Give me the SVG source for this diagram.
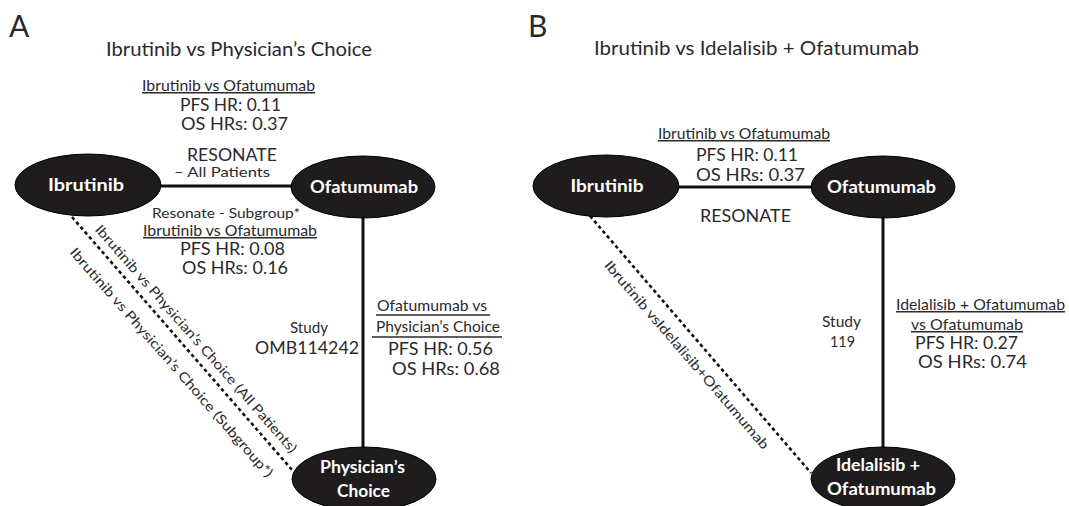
<svg xmlns="http://www.w3.org/2000/svg" width="1069" height="506" viewBox="0 0 1069 506">
  <style>
    text { font-family: Lato, "Open Sans", "Liberation Sans", sans-serif; fill: #2a2a2e; }
    .panel { font-size: 30px; }
    .title { font-size: 19.5px; text-anchor: middle; }
    .hdr { font-size: 15px; }
    .val { font-size: 16.5px; }
    .mid { font-size: 16.5px; }
    .c { text-anchor: middle; }
    .u { text-decoration: underline; }
    .node ellipse { fill: #1f1c1d; stroke: #000; stroke-width: 1; }
    .node text { fill: #ffffff; font-weight: bold; font-size: 16.5px; text-anchor: middle; }
    .edge { stroke: #111; stroke-width: 3; fill: none; }
    .dash { stroke: #111; stroke-width: 2.6; stroke-dasharray: 3.5 3; fill: none; }
    .rot { font-size: 13.5px; text-anchor: middle; }
    .rule { stroke: #2a2a2e; stroke-width: 1.5; }
  </style>

  <!-- Panel A: Ibrutinib vs Physician's Choice -->
  <text class="panel" x="9" y="37">A</text>
  <text class="title" x="239" y="56" textLength="266" lengthAdjust="spacingAndGlyphs">Ibrutinib vs Physician’s Choice</text>

  <g id="connectors-a">
    <line class="edge" x1="158" y1="186" x2="293" y2="186"/>
    <line class="edge" x1="363" y1="216" x2="363" y2="450"/>
    <line class="dash" x1="72" y1="217" x2="293" y2="471"/>
  </g>

  <g id="labels-a">
    <text class="hdr c u" x="228.5" y="91" textLength="173" lengthAdjust="spacingAndGlyphs">Ibrutinib vs Ofatumumab</text>
    <text class="val c" x="230.5" y="111" textLength="101" lengthAdjust="spacingAndGlyphs">PFS HR: 0.11</text>
    <text class="val c" x="234.5" y="130" textLength="107" lengthAdjust="spacingAndGlyphs">OS HRs: 0.37</text>
    <text class="mid c" x="232" y="161" textLength="90" lengthAdjust="spacingAndGlyphs">RESONATE</text>
    <text class="c" x="222" y="177" style="font-size:12.5px" textLength="96" lengthAdjust="spacingAndGlyphs">– All Patients</text>
    <text class="c" x="226" y="218" style="font-size:14px" textLength="148" lengthAdjust="spacingAndGlyphs">Resonate - Subgroup*</text>
    <text class="hdr c u" x="230" y="236" textLength="174" lengthAdjust="spacingAndGlyphs">Ibrutinib vs Ofatumumab</text>
    <text class="val c" x="232.5" y="255" textLength="105" lengthAdjust="spacingAndGlyphs">PFS HR: 0.08</text>
    <text class="val c" x="235" y="274" textLength="106" lengthAdjust="spacingAndGlyphs">OS HRs: 0.16</text>
    <text class="hdr c" x="309" y="333" textLength="38" lengthAdjust="spacingAndGlyphs">Study</text>
    <text class="val c" x="307" y="354" textLength="104" lengthAdjust="spacingAndGlyphs">OMB114242</text>
    <text class="hdr" x="377" y="311" textLength="110" lengthAdjust="spacingAndGlyphs">Ofatumumab vs</text>
    <line class="rule" x1="376" y1="315" x2="490" y2="315"/>
    <text class="hdr" x="376" y="332" textLength="124" lengthAdjust="spacingAndGlyphs">Physician’s Choice</text>
    <line class="rule" x1="372" y1="337" x2="502" y2="337"/>
    <text class="val" x="388" y="355" textLength="105" lengthAdjust="spacingAndGlyphs">PFS HR: 0.56</text>
    <text class="val" x="392" y="375" textLength="108" lengthAdjust="spacingAndGlyphs">OS HRs: 0.68</text>
    <text class="rot" transform="translate(192.5,341.9) rotate(48.75)" textLength="298" lengthAdjust="spacingAndGlyphs">Ibrutinib vs Physician’s Choice (All Patients)</text>
    <text class="rot" transform="translate(168,365.6) rotate(48.75)" textLength="300" lengthAdjust="spacingAndGlyphs">Ibrutinib vs Physician’s Choice (Subgroup*)</text>
  </g>

  <g id="node-a-ibrutinib" class="node">
    <ellipse cx="88" cy="185" rx="73" ry="31"/>
    <text x="86" y="191" textLength="76" lengthAdjust="spacingAndGlyphs">Ibrutinib</text>
  </g>
  <g id="node-a-ofatumumab" class="node">
    <ellipse cx="363" cy="187" rx="72" ry="31"/>
    <text x="364" y="193" textLength="108" lengthAdjust="spacingAndGlyphs">Ofatumumab</text>
  </g>
  <g id="node-a-physicians-choice" class="node">
    <ellipse cx="364" cy="479" rx="72" ry="32"/>
    <text x="362.5" y="473" textLength="85" lengthAdjust="spacingAndGlyphs">Physician’s</text>
    <text x="363.5" y="497" textLength="53" lengthAdjust="spacingAndGlyphs">Choice</text>
  </g>

  <!-- Panel B: Ibrutinib vs Idelalisib + Ofatumumab -->
  <text class="panel" x="528" y="37">B</text>
  <text class="title" x="756.5" y="55" textLength="325" lengthAdjust="spacingAndGlyphs">Ibrutinib vs Idelalisib + Ofatumumab</text>

  <g id="connectors-b">
    <line class="edge" x1="677" y1="187" x2="812" y2="187"/>
    <line class="edge" x1="883" y1="217" x2="883" y2="449"/>
    <line class="dash" x1="590" y1="216" x2="811" y2="473"/>
  </g>

  <g id="labels-b">
    <text class="hdr c u" x="744" y="139" textLength="172" lengthAdjust="spacingAndGlyphs">Ibrutinib vs Ofatumumab</text>
    <text class="val c" x="747" y="161" textLength="102" lengthAdjust="spacingAndGlyphs">PFS HR: 0.11</text>
    <text class="val c" x="750.5" y="181" textLength="109" lengthAdjust="spacingAndGlyphs">OS HRs: 0.37</text>
    <text class="mid c" x="745.5" y="222" textLength="91" lengthAdjust="spacingAndGlyphs">RESONATE</text>
    <text class="hdr c" x="841.5" y="327" textLength="39" lengthAdjust="spacingAndGlyphs">Study</text>
    <text class="hdr c" x="842.5" y="347" textLength="25" lengthAdjust="spacingAndGlyphs">119</text>
    <text class="hdr u" x="896" y="310" textLength="169" lengthAdjust="spacingAndGlyphs">Idelalisib + Ofatumumab</text>
    <text class="hdr u" x="911" y="330" textLength="112" lengthAdjust="spacingAndGlyphs">vs Ofatumumab</text>
    <text class="val" x="915" y="349" textLength="103" lengthAdjust="spacingAndGlyphs">PFS HR: 0.27</text>
    <text class="val" x="918" y="368" textLength="109" lengthAdjust="spacingAndGlyphs">OS HRs: 0.74</text>
    <text class="rot" transform="translate(683.3,358) rotate(49.2)" textLength="244" lengthAdjust="spacingAndGlyphs">Ibrutinib vsIdelalisib+Ofatumumab</text>
  </g>

  <g id="node-b-ibrutinib" class="node">
    <ellipse cx="606" cy="186" rx="73" ry="31"/>
    <text x="607" y="192" textLength="73" lengthAdjust="spacingAndGlyphs">Ibrutinib</text>
  </g>
  <g id="node-b-ofatumumab" class="node">
    <ellipse cx="883" cy="187" rx="72" ry="31"/>
    <text x="881.5" y="193" textLength="109" lengthAdjust="spacingAndGlyphs">Ofatumumab</text>
  </g>
  <g id="node-b-idelalisib-ofatumumab" class="node">
    <ellipse cx="883" cy="479" rx="72" ry="32"/>
    <text x="878" y="471" textLength="84" lengthAdjust="spacingAndGlyphs">Idelalisib +</text>
    <text x="881.5" y="495" textLength="109" lengthAdjust="spacingAndGlyphs">Ofatumumab</text>
  </g>
</svg>
